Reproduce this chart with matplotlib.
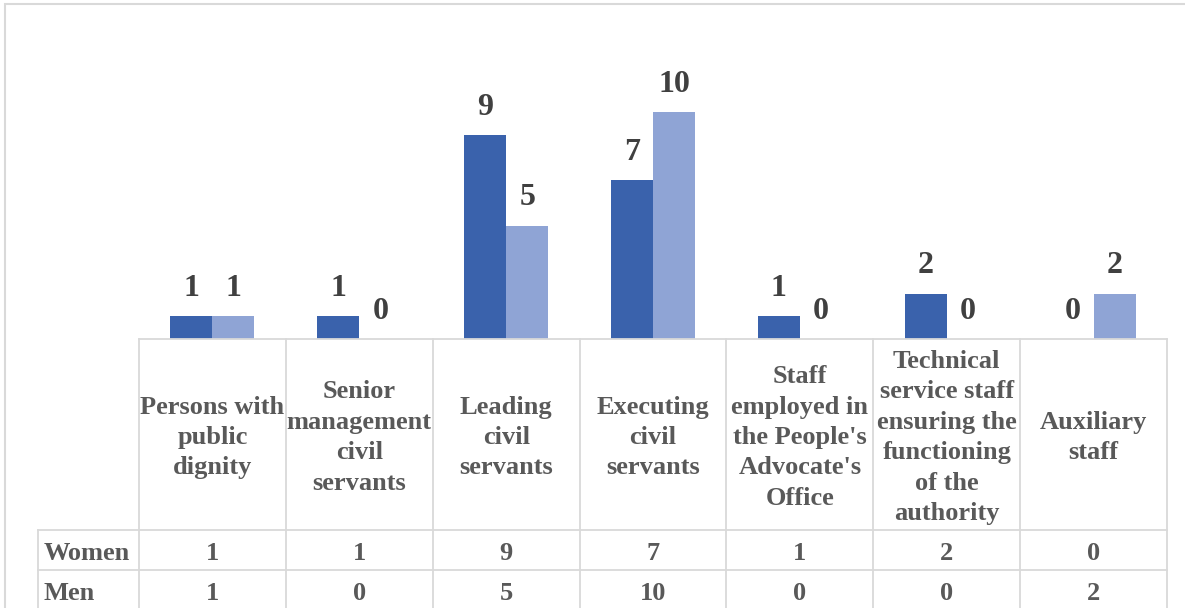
import numpy as np
import matplotlib
matplotlib.use('Agg')
import matplotlib.pyplot as plt
from matplotlib.patches import Rectangle

categories = ["Persons with\npublic\ndignity",
              "Senior\nmanagement\ncivil\nservants",
              "Leading\ncivil\nservants",
              "Executing\ncivil\nservants",
              "Staff\nemployed in\nthe People's\nAdvocate's\nOffice",
              "Technical\nservice staff\nensuring the\nfunctioning\nof the\nauthority",
              "Auxiliary\nstaff"]
women = [1, 1, 9, 7, 1, 2, 0]
men = [1, 0, 5, 10, 0, 0, 2]
series_names = ["Women", "Men"]

women_color = '#3A62AC'
men_color = '#8FA4D5'
grid_color = '#D9D9D9'
label_color = '#404040'
table_color = '#595959'
serif = 'Liberation Serif'

W, H = 1185, 608
fig = plt.figure(figsize=(W / 100, H / 100), dpi=100)

# outer chart frame (top and left edges visible)
fig.patches.append(Rectangle((5 / W, -0.1), 1.2, (H - 4) / H + 0.1,
                             transform=fig.transFigure, fill=False,
                             edgecolor=grid_color, lw=1.5))

# plot area: 139..1167 px wide, baseline at y=339 px
ax = fig.add_axes([139 / W, (H - 339) / H, 1028 / W, 272.4 / H])
n = len(categories)
x = np.arange(n)
bw = 0.286
b1 = ax.bar(x - bw / 2, women, bw, color=women_color)
b2 = ax.bar(x + bw / 2, men, bw, color=men_color)
for bars in (b1, b2):
    for r in bars:
        ax.annotate(str(int(r.get_height())),
                    xy=(r.get_x() + r.get_width() / 2, r.get_height()),
                    xytext=(0, 14.5), textcoords='offset points',
                    ha='center', va='baseline', fontsize=23,
                    fontweight='bold', family=serif, color=label_color)
ax.set_xlim(-0.5, n - 0.5)
ax.set_ylim(0, 12)
ax.axis('off')

# data table under the bars (x shares the category scale, y in pixels from the baseline)
tax = fig.add_axes([139 / W, 0, 1028 / W, (H - 339) / H])
tax.set_xlim(-0.5, n - 0.5)
tax.set_ylim(269, 0)
tax.axis('off')
row_h = [191, 40, 40]
edges = np.cumsum([0] + row_h)
lab_left = -0.5 - 101 / 147
kw = dict(color=grid_color, lw=1.3, clip_on=False)
# horizontal lines
tax.plot([-0.5, n - 0.5], [0, 0], **kw)
for yy in edges[1:]:
    tax.plot([lab_left, n - 0.5], [yy, yy], **kw)
# vertical lines
for xx in np.arange(n + 1) - 0.5:
    tax.plot([xx, xx], [0, edges[-1]], **kw)
tax.plot([lab_left, lab_left], [edges[1], edges[-1]], **kw)

tkw = dict(fontsize=19, fontweight='bold', family=serif, color=table_color,
           clip_on=False)
for i, cat in enumerate(categories):
    tax.text(i, edges[1] / 2 + 3, cat, ha='center', va='center',
             linespacing=1.41, **tkw)
for j, (name, vals) in enumerate(zip(series_names, [women, men])):
    yc = (edges[j + 1] + edges[j + 2]) / 2 + 3
    tax.text(lab_left + 0.035, yc, name, ha='left', va='center', **tkw)
    for i, v in enumerate(vals):
        tax.text(i, yc, str(v), ha='center', va='center', **tkw)

fig.savefig('out.png', dpi=100)
